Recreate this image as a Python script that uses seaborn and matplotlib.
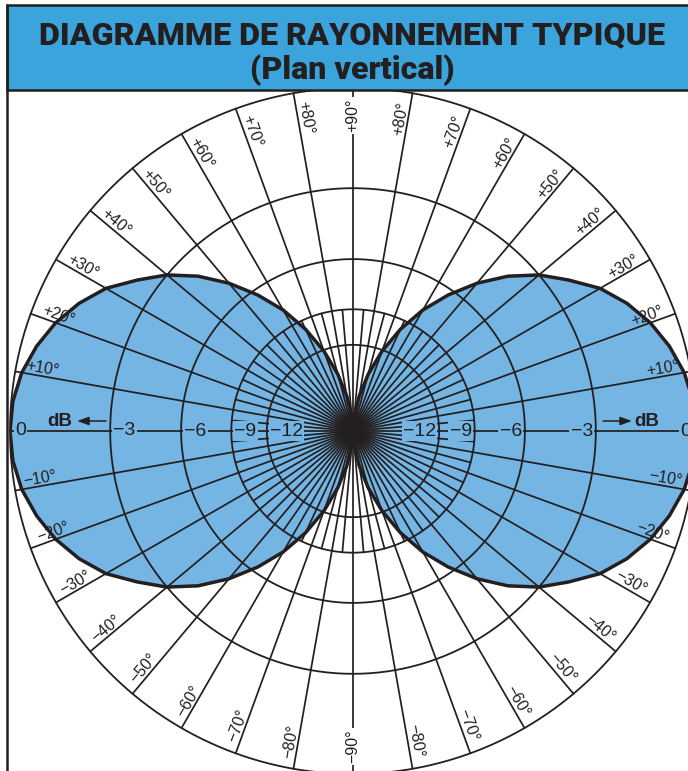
import numpy as np
import pandas as pd
import seaborn as sns
import matplotlib.pyplot as plt
from matplotlib.patches import Rectangle

# half pattern: elevation (deg) -> relative level (dB)
elev_deg = [0, 5, 10, 15, 20, 25, 30, 35, 40, 45, 50, 55, 60, 65, 70, 75, 80, 85, 90]
level_db = [0, -0.04, -0.17, -0.4, -0.7, -1.1, -1.6, -2.3, -3.0, -3.9, -5.0,
            -6.3, -7.8, -9.7, -12.1, -15.3, -19.8, -27.5, -60]

ring_db = [-3, -6, -9, -12]
ring_text = ["\u22123", "\u22126", "\u22129", "\u221212"]
tick_deg = [10, 20, 30, 40, 50, 60, 70, 80]
title_top = "DIAGRAMME DE RAYONNEMENT TYPIQUE"
title_sub = "(Plan vertical)"

INK = "#231f20"
LOBE = "#74b5e4"
BAND = "#3ca4dd"

W, H = 688, 771
cx, cy, R = 353, 431, 343   # pole position and 0 dB radius, pixels


def amp(db):
    # the chart radius is linear in field strength
    return 10 ** (np.asarray(db, dtype=float) / 20)


sns.set_style("white")
plt.rcParams['font.family'] = ['Liberation Sans', 'DejaVu Sans']

fig = plt.figure(figsize=(W / 100, H / 100), dpi=100)
ax = fig.add_axes([(cx - R) / W, (H - cy - R) / H, 2 * R / W, 2 * R / H],
                  projection="polar")
ax.set_axis_off()
ax.set_ylim(0, 1)

# build both lobes from the half pattern
el = np.array(elev_deg, dtype=float)
rr = amp(level_db)
right_t = np.concatenate([-el[::-1], el[1:]])
right_r = np.concatenate([rr[::-1], rr[1:]])
left_t = 180 - right_t
df = pd.DataFrame({
    "theta": np.deg2rad(np.concatenate([right_t, left_t])),
    "r": np.concatenate([right_r, right_r]),
    "lobe": ["droite"] * len(right_t) + ["gauche"] * len(left_t),
})

for name, g in df.groupby("lobe"):
    ax.fill(g["theta"], g["r"], color=LOBE, lw=0, zorder=1)
sns.lineplot(data=df, x="theta", y="r", units="lobe", estimator=None,
             sort=False, color=INK, lw=2.5, ax=ax, zorder=6, legend=False)

# grid: dB rings and radial lines
circ = np.linspace(0, 2 * np.pi, 721)
for db in ring_db + [0]:
    ax.plot(circ, np.full_like(circ, amp(db)), color=INK, lw=1.3,
            zorder=5, clip_on=False)
for a in range(0, 360, 10):
    ax.plot([np.deg2rad(a)] * 2, [0, 1], color=INK, lw=1.25, zorder=2,
            clip_on=False)
for a in range(5, 360, 10):
    ax.plot([np.deg2rad(a)] * 2, [0, amp(-9)], color=INK, lw=1.25, zorder=2)
ax.plot([0], [0], "o", ms=14, color=INK, zorder=7)

# angle labels, sitting on their radial line
lab_r = 0.922
for a in tick_deg:
    for sign in (1, -1):
        txt = ("+" if sign > 0 else "\u2212") + f"{a}\u00b0"
        th = sign * a
        ax.text(np.deg2rad(th), lab_r, txt, rotation=th, rotation_mode="anchor",
                ha="center", va="bottom", fontsize=11.5, color=INK, zorder=4)
        ax.text(np.deg2rad(180 - th), lab_r, txt, rotation=-th,
                rotation_mode="anchor", ha="center", va="bottom",
                fontsize=11.5, color=INK, zorder=4)
for th, txt in [(90, "+90\u00b0"), (270, "\u221290\u00b0")]:
    ax.text(np.deg2rad(th), 0.92, txt, rotation=90, rotation_mode="anchor",
            ha="center", va="center", fontsize=11.5, color=INK, zorder=4,
            bbox=dict(fc="white", ec="none", pad=1.5))

# dB values along the horizontal axis
box = dict(fc=LOBE, ec="none", pad=0.8)
for db, txt in zip(ring_db, ring_text):
    rpos = amp(db) - 3 / R
    ax.text(np.pi, rpos, txt, ha="left", va="center", fontsize=14,
            color=INK, zorder=4, bbox=box)
    ax.text(0, rpos, txt, ha="right", va="center", fontsize=14,
            color=INK, zorder=4, bbox=box)
for th in (0, np.pi):
    ax.text(th, 0.97, "0", ha="center", va="center", fontsize=14,
            color=INK, zorder=4, bbox=box)

# overlay in pixel units for the frame, title band and dB arrows
ov = fig.add_axes([0, 0, 1, 1], zorder=3)
ov.set_xlim(0, W)
ov.set_ylim(H, 0)
ov.set_axis_off()
ov.patch.set_alpha(0)

ov.add_patch(Rectangle((7, 5), 700, 85, fc=BAND, ec=INK, lw=1.8))
ov.plot([7, 7], [5, H + 5], color=INK, lw=1.8)

title_font = ["Liberation Sans Narrow", "Roboto", "Liberation Sans"]
t1 = ov.text(352, 35, title_top, ha="center", va="center", fontsize=30,
             fontweight="heavy", fontstretch="condensed", color=INK,
             family=title_font)
t2 = ov.text(352, 70, title_sub, ha="center", va="center", fontsize=26,
             fontweight="heavy", fontstretch="condensed", color=INK,
             family=title_font)

ov.text(60, 421, "dB", ha="center", va="center", fontsize=13.5,
        fontweight="bold", color=INK)
ov.text(647, 421, "dB", ha="center", va="center", fontsize=13.5,
        fontweight="bold", color=INK)
arrow = dict(arrowstyle="-|>,head_length=0.7,head_width=0.25", lw=1.1,
             color=INK, shrinkA=0, shrinkB=0)
ov.annotate("", xy=(77, 421), xytext=(106, 421), arrowprops=arrow)
ov.annotate("", xy=(632, 421), xytext=(603, 421), arrowprops=arrow)

# squeeze the title lines to the width they take in the original
fig.canvas.draw()
rend = fig.canvas.get_renderer()
for t, target in [(t1, 627), (t2, 205)]:
    w = t.get_window_extent(rend).width
    t.set_fontsize(t.get_fontsize() * target / w)

fig.savefig("out.png", dpi=100)
